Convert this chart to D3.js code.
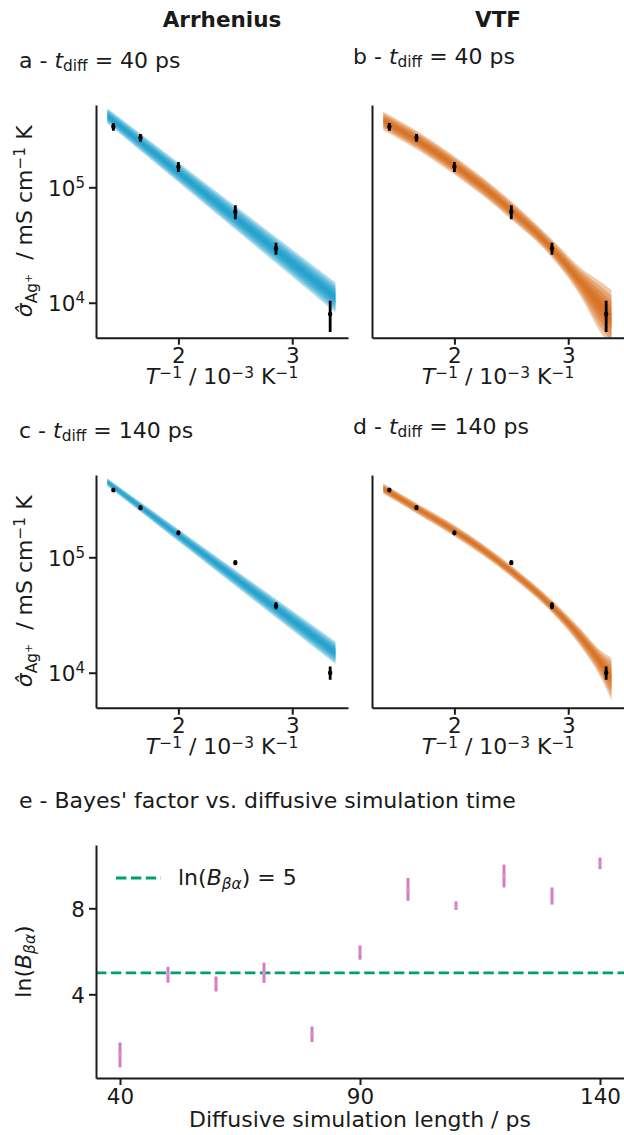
<!DOCTYPE html>
<html>
<head>
<meta charset="utf-8">
<script src="https://cdn.jsdelivr.net/npm/d3@7"></script>
<style>
  html, body { margin: 0; padding: 0; background: #fff; }
  svg { display: block; }
  text { font-family: "DejaVu Sans", sans-serif; fill: #1a1a1a; white-space: pre; }
</style>
</head>
<body>
<svg id="chart" width="624" height="1135"></svg>
<script>
// ---- data -------------------------------------------------------------
// inverse temperature, 10^-3 K^-1 (700, 600, 500, 400, 350, 300 K)
const invTemp = [1.4286, 1.6667, 2.0, 2.5, 2.8571, 3.3333];

// conductivity estimates (mS cm^-1 K) with 1-sigma uncertainty
const sigma40 = [3.35e5, 2.69e5, 1.51e5, 6.15e4, 2.96e4, 7.98e3];
const sigma40Err = [2.6e4, 2.1e4, 1.5e4, 8.5e3, 3.5e3, 2.4e3];
const sigma140 = [3.83e5, 2.69e5, 1.63e5, 8.98e4, 3.81e4, 1.0e4];
const sigma140Err = [1.5e4, 1.0e4, 7e3, 4e3, 2.6e3, 1.3e3];

// posterior model envelopes, log10(sigma): median, upper and lower edge
const arrhX = [1.375, 3.38];
const arrh40Mid = [5.62, 4.045];
const arrh40Hi = [5.685, 4.175];
const arrh40Lo = [5.555, 3.915];
const arrh140Mid = [5.652, 4.172];
const arrh140Hi = [5.685, 4.27];
const arrh140Lo = [5.618, 4.075];

const vtfX = [1.375, 1.667, 2.0, 2.5, 2.857, 3.1, 3.3, 3.38];
const vtf40Mid = [5.575, 5.41, 5.19, 4.80, 4.47, 4.19, 3.96, 3.87];
const vtf40Hi = [5.655, 5.49, 5.27, 4.88, 4.55, 4.31, 4.17, 4.11];
const vtf40Lo = [5.495, 5.33, 5.11, 4.72, 4.39, 4.07, 3.72, 3.62];
const vtf140Mid = [5.595, 5.425, 5.23, 4.88, 4.575, 4.32, 4.07, 3.955];
const vtf140Hi = [5.64, 5.47, 5.28, 4.93, 4.63, 4.39, 4.18, 4.13];
const vtf140Lo = [5.55, 5.38, 5.18, 4.83, 4.52, 4.24, 3.93, 3.76];

const invTempTicks = [2, 3];
const sigmaTicks = [1e4, 1e5];

// Bayes factor against diffusive simulation length
const simLength = [40, 50, 60, 70, 80, 90, 100, 110, 120, 130, 140];
const lnBayes = [1.18, 4.91, 4.48, 5.0, 2.14, 5.94, 8.88, 8.12, 9.50, 8.57, 10.09];
const lnBayesErr = [0.58, 0.37, 0.35, 0.47, 0.36, 0.33, 0.53, 0.2, 0.53, 0.4, 0.27];
const lnBayesThreshold = 5;
const lengthTicks = [40, 90, 140];
const lnBayesTicks = [4, 8];

// ---- helpers ----------------------------------------------------------
const INK = "#1a1a1a";
const BLUE = "#0a96c8";
const ORANGE = "#d2600a";
const GREEN = "#029e73";
const PINK = "#cc78bc";
const FS = 21.5;   // tick labels
const LFS = 22;    // titles and axis labels

const svg = d3.select("#chart");

// mathtext-like label: parts = {t, it, off (em, +down), fs (fraction)}
function rich(sel, parts, size) {
  let prev = 0;
  parts.forEach(p => {
    const off = (p.off || 0) * size;
    const ts = sel.append("tspan")
      .attr("dy", off - prev)
      .attr("font-size", (p.fs || 1) * size)
      .text(p.t);
    if (p.it) ts.attr("font-style", "italic");
    if (p.bold) ts.attr("font-weight", "bold");
    prev = off;
  });
  return sel;
}

function textAt(x, y, anchor, size) {
  return svg.append("text").attr("x", x).attr("y", y)
    .attr("text-anchor", anchor).attr("font-size", size);
}

function styleAxis(g) {
  g.select(".domain").attr("stroke", INK).attr("stroke-width", 2);
  g.selectAll(".tick line").attr("stroke", INK).attr("stroke-width", 2);
  g.selectAll(".tick text").attr("fill", INK).attr("font-size", FS)
    .attr("font-family", "DejaVu Sans");
}

// ---- conductivity panels ---------------------------------------------
const W = 252, Hh = 232.7;
function sigmaPanel(cfg) {
  const x = d3.scaleLinear().domain([1.276, 3.49]).range([cfg.left, cfg.left + W]);
  const y = d3.scaleLog().domain([Math.pow(10, 3.697), Math.pow(10, 5.713)])
    .range([cfg.top + Hh, cfg.top]);

  const clipId = "clip-" + cfg.key;
  svg.append("clipPath").attr("id", clipId).append("rect")
    .attr("x", cfg.left).attr("y", cfg.top).attr("width", W).attr("height", Hh);

  const g = svg.append("g").attr("clip-path", `url(#${clipId})`);

  // posterior ensemble drawn as nested shaded envelopes
  const curve = cfg.fitX.length > 2 ? d3.curveMonotoneX : d3.curveLinear;
  [1, 0.8, 0.6, 0.4, 0.2].forEach(f => {
    const pts = cfg.fitX.map((xv, i) => ({
      x: xv,
      hi: cfg.mid[i] + f * (cfg.hi[i] - cfg.mid[i]),
      lo: cfg.mid[i] + f * (cfg.lo[i] - cfg.mid[i])
    }));
    const area = d3.area()
      .x(d => x(d.x))
      .y0(d => y(Math.pow(10, d.lo)))
      .y1(d => y(Math.pow(10, d.hi)))
      .curve(curve);
    g.append("path").attr("d", area(pts))
      .attr("fill", cfg.color).attr("fill-opacity", 0.34);
  });

  // simulation estimates with error bars
  const pts = invTemp.map((t, i) => ({ x: t, v: cfg.sigma[i], e: cfg.err[i] }));
  g.selectAll(null).data(pts).enter().append("line")
    .attr("x1", d => x(d.x)).attr("x2", d => x(d.x))
    .attr("y1", d => y(d.v - d.e)).attr("y2", d => y(d.v + d.e))
    .attr("stroke", "#000").attr("stroke-width", 2.8);
  g.selectAll(null).data(pts).enter().append("ellipse")
    .attr("cx", d => x(d.x)).attr("cy", d => y(d.v))
    .attr("rx", 2.2).attr("ry", 2.6).attr("fill", "#000");

  // axes
  const gx = svg.append("g").attr("transform", `translate(0,${cfg.top + Hh})`)
    .call(d3.axisBottom(x).tickValues(invTempTicks).tickSize(7).tickSizeOuter(0)
      .tickPadding(3.5).tickFormat(d3.format("d")));
  styleAxis(gx);

  const gy = svg.append("g").attr("transform", `translate(${cfg.left},0)`)
    .call(d3.axisLeft(y).tickValues(cfg.yLabels ? sigmaTicks : []).tickSize(7)
      .tickSizeOuter(0).tickPadding(4).tickFormat(() => ""));
  styleAxis(gy);
  if (cfg.yLabels) {
    gy.selectAll(".tick text").each(function (d) {
      const t = d3.select(this).attr("dy", null).attr("y", 8);
      rich(t, [{ t: "10" }, { t: String(Math.round(Math.log10(d))), off: -0.36, fs: 0.7 }], FS);
    });
  }

  // x axis label
  rich(textAt(cfg.left + W / 2, cfg.top + Hh + 46.5, "middle", LFS), [
    { t: "T", it: true },
    { t: "\u22121", off: -0.3, fs: 0.7 },
    { t: " / 10", off: 0 },
    { t: "\u22123", off: -0.3, fs: 0.7 },
    { t: " K", off: 0 },
    { t: "\u22121", off: -0.3, fs: 0.7 }
  ], LFS);

  // y axis label
  if (cfg.yLabels) {
    const t = svg.append("text")
      .attr("transform", `translate(31.5,${cfg.top + Hh / 2}) rotate(-90)`)
      .attr("text-anchor", "middle").attr("font-size", LFS);
    rich(t, [
      { t: "\u03C3\u0302", it: true },
      { t: "Ag", off: 0.24, fs: 0.7 },
      { t: "+", off: 0.0, fs: 0.5 },
      { t: "  / mS cm", off: 0 },
      { t: "\u22121", off: -0.3, fs: 0.7 },
      { t: " K", off: 0 }
    ], LFS);
  }

  // panel caption
  rich(textAt(cfg.capX, cfg.capY, "start", LFS), [
    { t: cfg.letter + " - " },
    { t: "t", it: true },
    { t: "diff", off: 0.15, fs: 0.7 },
    { t: " = " + cfg.tdiff + " ps", off: 0 }
  ], LFS);
}

sigmaPanel({ key: "a", left: 96, top: 105, color: BLUE, fitX: arrhX,
  mid: arrh40Mid, hi: arrh40Hi, lo: arrh40Lo, sigma: sigma40, err: sigma40Err,
  yLabels: true, letter: "a", tdiff: 40, capX: 19, capY: 68 });
sigmaPanel({ key: "b", left: 372, top: 105, color: ORANGE, fitX: vtfX,
  mid: vtf40Mid, hi: vtf40Hi, lo: vtf40Lo, sigma: sigma40, err: sigma40Err,
  yLabels: false, letter: "b", tdiff: 40, capX: 353, capY: 64 });
sigmaPanel({ key: "c", left: 96, top: 475, color: BLUE, fitX: arrhX,
  mid: arrh140Mid, hi: arrh140Hi, lo: arrh140Lo, sigma: sigma140, err: sigma140Err,
  yLabels: true, letter: "c", tdiff: 140, capX: 19, capY: 438 });
sigmaPanel({ key: "d", left: 372, top: 475, color: ORANGE, fitX: vtfX,
  mid: vtf140Mid, hi: vtf140Hi, lo: vtf140Lo, sigma: sigma140, err: sigma140Err,
  yLabels: false, letter: "d", tdiff: 140, capX: 353, capY: 434 });

// column headings
textAt(222, 27, "middle", FS).attr("font-weight", "bold").text("Arrhenius");
textAt(498, 27, "middle", FS).attr("font-weight", "bold").text("VTF");

// ---- Bayes factor panel -----------------------------------------------
(function () {
  const left = 96, right = 624, top = 845, bottom = 1078;
  const x = d3.scaleLinear().domain([35, 145]).range([left, right]);
  const y = d3.scaleLinear().domain([0.107, 10.944]).range([bottom, top]);

  // threshold line
  svg.append("line")
    .attr("x1", left).attr("x2", right)
    .attr("y1", y(lnBayesThreshold)).attr("y2", y(lnBayesThreshold))
    .attr("stroke", GREEN).attr("stroke-width", 2.8)
    .attr("stroke-dasharray", "10.4 4.5");

  const pts = simLength.map((s, i) => ({ s, v: lnBayes[i], e: lnBayesErr[i] }));
  svg.selectAll(null).data(pts).enter().append("line")
    .attr("x1", d => x(d.s)).attr("x2", d => x(d.s))
    .attr("y1", d => y(d.v - d.e)).attr("y2", d => y(d.v + d.e))
    .attr("stroke", PINK).attr("stroke-width", 3).attr("stroke-opacity", 0.95);
  svg.selectAll(null).data(pts).enter().append("circle")
    .attr("cx", d => x(d.s)).attr("cy", d => y(d.v)).attr("r", 1.7)
    .attr("fill", "#d995cd");

  const gx = svg.append("g").attr("transform", `translate(0,${bottom})`)
    .call(d3.axisBottom(x).tickValues(lengthTicks).tickSize(7).tickSizeOuter(0)
      .tickPadding(3.5).tickFormat(d3.format("d")));
  styleAxis(gx);
  const gy = svg.append("g").attr("transform", `translate(${left},0)`)
    .call(d3.axisLeft(y).tickValues(lnBayesTicks).tickSize(7).tickSizeOuter(0)
      .tickPadding(4).tickFormat(d3.format("d")));
  styleAxis(gy);
  gy.selectAll(".tick text").attr("dy", null).attr("y", 8);

  // legend
  svg.append("line").attr("x1", 116).attr("x2", 161).attr("y1", 878).attr("y2", 878)
    .attr("stroke", GREEN).attr("stroke-width", 2.8).attr("stroke-dasharray", "10.4 4.5");
  rich(textAt(178, 885, "start", LFS), [
    { t: "ln(" },
    { t: "B", it: true },
    { t: "\u03B2\u03B1", it: true, off: 0.2, fs: 0.7 },
    { t: ") = 5", off: 0 }
  ], LFS);

  // axis labels
  textAt((left + right) / 2, 1127, "middle", LFS).text("Diffusive simulation length / ps");
  const t = svg.append("text")
    .attr("transform", `translate(31,${(top + bottom) / 2}) rotate(-90)`)
    .attr("text-anchor", "middle").attr("font-size", LFS);
  rich(t, [
    { t: "ln(" },
    { t: "B", it: true },
    { t: "\u03B2\u03B1", it: true, off: 0.2, fs: 0.7 },
    { t: ")", off: 0 }
  ], LFS);

  textAt(19, 808, "start", LFS).text("e - Bayes' factor vs. diffusive simulation time");
})();
</script>
</body>
</html>
